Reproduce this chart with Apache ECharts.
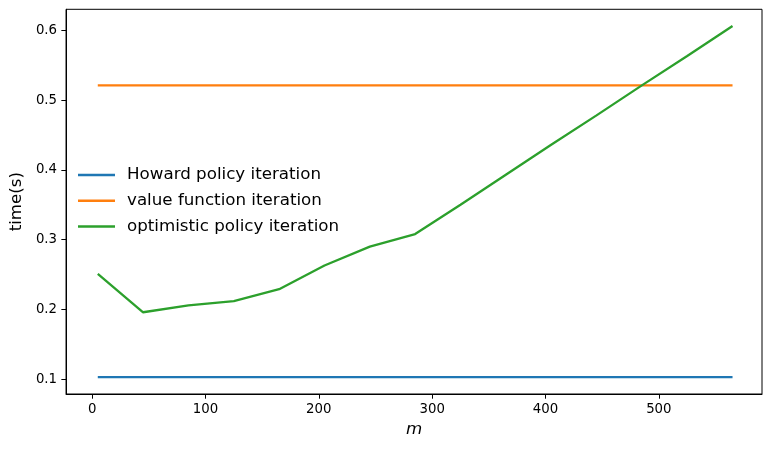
<!DOCTYPE html>
<html lang="en">
<head>
    <meta charset="UTF-8">
    <title>time vs m</title>
    <script src="https://cdn.jsdelivr.net/npm/echarts@6/dist/echarts.min.js"></script>
    <style>
        html, body {
            margin: 0;
            padding: 0;
            background: #fff;
        }

        #chart {
            width: 771px;
            height: 450px;
        }
    </style>
</head>
<body>
<div id="chart"></div>

<script type="text/javascript">
    // m values (x axis)
    var mValues = [5, 45, 85, 125, 165, 205, 245, 285, 325, 365, 405, 445, 485, 525, 565];
    // time in seconds
    var howard = [0.103, 0.103, 0.103, 0.103, 0.103, 0.103, 0.103, 0.103, 0.103, 0.103, 0.103, 0.103, 0.103, 0.103, 0.103];
    var valueIter = [0.521, 0.521, 0.521, 0.521, 0.521, 0.521, 0.521, 0.521, 0.521, 0.521, 0.521, 0.521, 0.521, 0.521, 0.521];
    var optimistic = [0.251, 0.196, 0.206, 0.212, 0.229, 0.263, 0.290, 0.308, 0.350, 0.393, 0.436, 0.478, 0.521, 0.563, 0.606];
    // tick labels
    var xTicks = [0, 100, 200, 300, 400, 500];
    var yTicks = [0.1, 0.2, 0.3, 0.4, 0.5, 0.6];

    var seriesNames = ['Howard policy iteration', 'value function iteration', 'optimistic policy iteration'];
    var seriesColors = ['#1f77b4', '#ff7f0e', '#2ca02c'];
    var seriesData = [howard, valueIter, optimistic];

    function pairs(ys) {
        var out = [];
        for (var i = 0; i < mValues.length; i++) {
            out.push([mValues[i], ys[i]]);
        }
        return out;
    }

    var font = 'DejaVu Sans';
    var chart = echarts.init(document.getElementById('chart'), null, {renderer: 'canvas'});

    var series = [];
    for (var i = 0; i < seriesNames.length; i++) {
        series.push({
            name: seriesNames[i],
            type: 'line',
            data: pairs(seriesData[i]),
            symbol: 'none',
            animation: false,
            lineStyle: {width: 2.3, color: seriesColors[i]},
            itemStyle: {color: seriesColors[i]}
        });
    }

    var option = {
        backgroundColor: '#fff',
        animation: false,
        textStyle: {fontFamily: font},
        grid: {
            left: 64.3,
            right: 9,
            top: 9.3,
            bottom: 56,
            show: true,
            borderColor: '#000',
            borderWidth: 1,
            backgroundColor: 'transparent'
        },
        legend: {
            left: 78,
            top: 166.5,
            padding: 0,
            orient: 'vertical',
            icon: 'rect',
            itemWidth: 37,
            itemHeight: 2.5,
            itemGap: 8.8,
            textStyle: {
                fontFamily: font,
                fontSize: 16.7,
                lineHeight: 16.7,
                color: '#000',
                padding: [0, 0, 0, 7]
            },
            data: seriesNames
        },
        xAxis: {
            type: 'value',
            min: -23,
            max: 591,
            name: 'm',
            nameLocation: 'middle',
            nameGap: 27,
            nameTextStyle: {fontFamily: font, fontSize: 16.7, fontStyle: 'italic', color: '#000'},
            axisLine: {show: true, onZero: false, lineStyle: {color: '#000', width: 1}},
            axisTick: {show: true, length: 4.7, lineStyle: {color: '#000', width: 1}, customValues: xTicks},
            axisLabel: {fontFamily: font, fontSize: 13.3, color: '#000', margin: 9, customValues: xTicks},
            splitLine: {show: false}
        },
        yAxis: {
            type: 'value',
            min: 0.0789,
            max: 0.630,
            name: 'time(s)',
            nameLocation: 'middle',
            nameGap: 31,
            nameTextStyle: {fontFamily: font, fontSize: 16.7, color: '#000'},
            axisLine: {show: true, onZero: false, lineStyle: {color: '#000', width: 1}},
            axisTick: {show: true, length: 4.7, lineStyle: {color: '#000', width: 1}, customValues: yTicks},
            axisLabel: {
                fontFamily: font, fontSize: 13.3, color: '#000', margin: 9, customValues: yTicks,
                formatter: function (v) { return v.toFixed(1); }
            },
            splitLine: {show: false}
        },
        series: series
    };

    chart.setOption(option);
</script>
</body>
</html>
